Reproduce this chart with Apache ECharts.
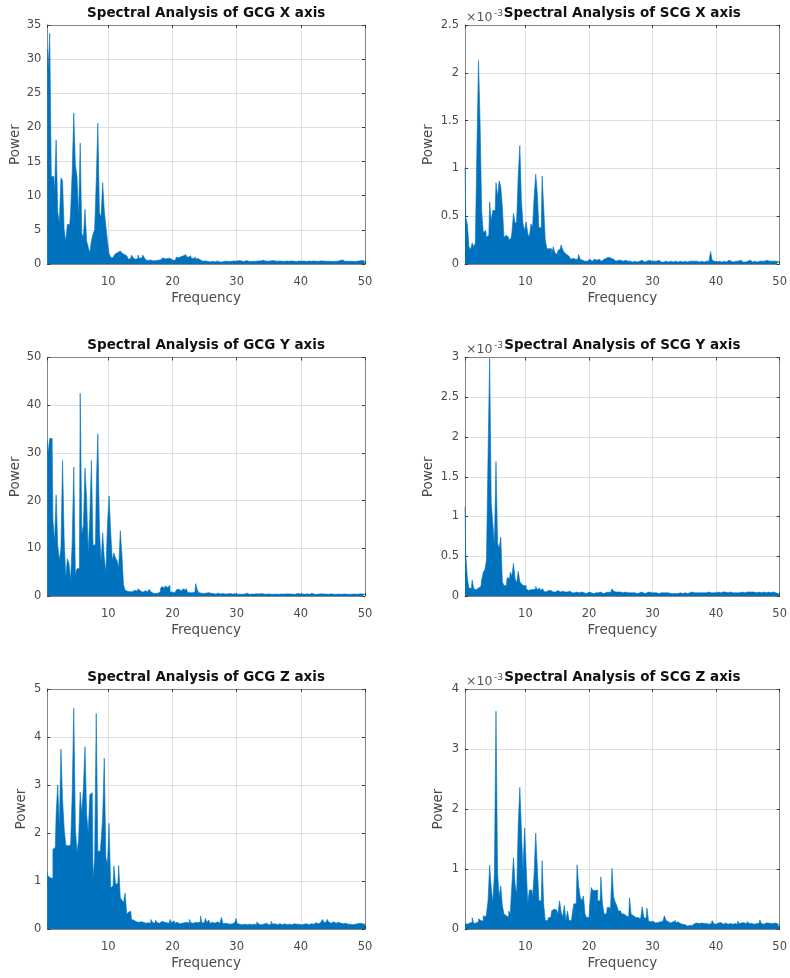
<!DOCTYPE html>
<html>
<head>
<meta charset="utf-8">
<script src="https://cdn.jsdelivr.net/npm/echarts@6/dist/echarts.min.js"></script>
<style>
  html, body { margin: 0; padding: 0; background: #ffffff; }
  #chart { width: 790px; height: 978px; }
</style>
</head>
<body>
<div id="chart"></div>
<script>
// Power spectra sampled on a uniform frequency grid (Hz): 0.5, 0.75, ... 50.
const FREQ_START = 0.5;
const FREQ_STEP = 0.25;

// GCG X axis power
const powGcgX = [
  31.5, 28.5, 33.8, 12.8,
  12.8, 10.5, 18.2, 7.6,
  6.0, 12.6, 12.2, 5.0,
  3.3, 5.8, 5.8, 7.5,
  13.4, 22.1, 14.5, 12.9,
  7.0, 17.7, 4.4, 3.9,
  8.0, 3.4, 2.5, 1.6,
  3.4, 4.4, 5.0, 12.2,
  20.6, 7.5, 6.9, 11.9,
  7.9, 5.5, 3.3, 1.5,
  1.0, 0.9, 1.2, 1.5,
  1.7, 1.9, 2.1, 1.6,
  1.4, 1.2, 1.0, 0.7,
  0.8, 1.3, 0.9, 0.7,
  0.8, 1.3, 0.8, 0.9,
  1.3, 0.9, 0.6, 0.5,
  0.6, 0.5, 0.45, 0.5,
  0.4, 0.55, 0.6, 0.8,
  0.9, 0.75, 0.95, 0.8,
  0.85, 0.7, 0.6, 0.5,
  0.7, 1.0, 0.9, 1.1,
  1.0, 1.2, 1.4, 1.1,
  1.0, 1.2, 0.9, 0.8,
  1.0, 0.7, 0.8, 0.6,
  0.5, 0.4, 0.45, 0.35,
  0.4, 0.3, 0.35, 0.4,
  0.3, 0.35, 0.45, 0.3,
  0.35, 0.3, 0.4, 0.35,
  0.4, 0.35, 0.45, 0.4,
  0.45, 0.35, 0.4, 0.5,
  0.4, 0.45, 0.35, 0.4,
  0.5, 0.4, 0.45, 0.35,
  0.4, 0.5, 0.4, 0.45,
  0.35, 0.45, 0.55, 0.4,
  0.45, 0.4, 0.35, 0.45,
  0.5, 0.4, 0.45, 0.4,
  0.35, 0.45, 0.4, 0.5,
  0.4, 0.45, 0.35, 0.4,
  0.45, 0.5, 0.4, 0.35,
  0.4, 0.45, 0.4, 0.5,
  0.45, 0.35, 0.4, 0.45,
  0.4, 0.5, 0.45, 0.4,
  0.35, 0.4, 0.45, 0.4,
  0.45, 0.4, 0.5, 0.4,
  0.4, 0.45, 0.35, 0.4,
  0.45, 0.4, 0.5, 0.45,
  0.6, 0.4, 0.45, 0.4,
  0.4, 0.45, 0.4, 0.35,
  0.45, 0.4, 0.45, 0.4,
  0.5, 0.45, 0.55
];

// SCG X axis power (units of 1e-3)
const powScgX = [
  1.01, 0.49, 0.41, 0.18,
  0.15, 0.22, 0.18, 0.22,
  1.22, 2.13, 1.47, 0.55,
  0.33, 0.35, 0.28, 0.3,
  0.65, 0.45, 0.56, 0.56,
  0.85, 0.7, 0.87, 0.81,
  0.6, 0.28, 0.3, 0.28,
  0.25, 0.27, 0.33, 0.53,
  0.42, 0.45, 0.93, 1.24,
  0.66, 0.42, 0.35, 0.44,
  0.32, 0.28, 0.42, 0.38,
  0.7, 0.94, 0.74, 0.38,
  0.38, 0.92, 0.6, 0.25,
  0.16, 0.16, 0.16, 0.1,
  0.18, 0.12, 0.1, 0.14,
  0.16, 0.2, 0.15, 0.12,
  0.1, 0.08, 0.06, 0.05,
  0.06, 0.05, 0.04, 0.05,
  0.1, 0.05, 0.04, 0.03,
  0.04, 0.03, 0.05, 0.04,
  0.03, 0.05, 0.04, 0.04,
  0.05, 0.04, 0.03, 0.05,
  0.05, 0.06, 0.07, 0.07,
  0.06, 0.05, 0.04, 0.03,
  0.04, 0.03, 0.04, 0.03,
  0.03, 0.04, 0.03, 0.02,
  0.03, 0.02, 0.04, 0.03,
  0.02, 0.03, 0.03, 0.04,
  0.03, 0.02, 0.03, 0.03,
  0.04, 0.03, 0.02, 0.03,
  0.03, 0.03, 0.04, 0.02,
  0.03, 0.02, 0.03, 0.04,
  0.02, 0.03, 0.03, 0.02,
  0.03, 0.04, 0.02, 0.03,
  0.03, 0.02, 0.03, 0.03,
  0.02, 0.03, 0.04, 0.03,
  0.03, 0.02, 0.03, 0.02,
  0.03, 0.03, 0.02, 0.04,
  0.03, 0.03, 0.04, 0.13,
  0.04, 0.03, 0.02, 0.03,
  0.03, 0.02, 0.03, 0.03,
  0.02, 0.03, 0.04, 0.03,
  0.03, 0.02, 0.03, 0.02,
  0.03, 0.04, 0.03, 0.02,
  0.02, 0.03, 0.03, 0.04,
  0.03, 0.02, 0.03, 0.03,
  0.02, 0.03, 0.02, 0.03,
  0.03, 0.02, 0.04, 0.03,
  0.02, 0.03, 0.03, 0.02,
  0.03, 0.02, 0.03
];

// GCG Y axis power
const powGcgY = [
  32.5, 30, 33, 33,
  16, 11.3, 21.2, 10.6,
  7.5, 10, 28.4, 12,
  3.8, 7.8, 6.8, 3.2,
  11, 27, 4.5, 5.7,
  5.8, 42.5, 13, 14.8,
  26.8, 20.3, 9, 16.5,
  28.4, 10.6, 10.8, 22.4,
  34, 14, 7, 13.2,
  8, 5, 15, 21,
  13.4, 7.5, 9, 8,
  7.4, 6, 13.7, 8.6,
  2.3, 1.2, 1.0, 0.9,
  1.1, 0.9, 1.2, 0.8,
  1.0, 1.5, 1.1, 0.8,
  0.9, 1.1, 0.9, 1.0,
  1.4, 0.9, 0.6, 0.5,
  0.5, 0.6, 0.9, 1.5,
  2.0, 1.6, 2.1, 1.8,
  2.2, 0.9, 0.8, 0.7,
  1.0, 1.3, 1.4, 1.1,
  1.0, 1.5, 1.1, 1.6,
  0.8, 0.7, 0.7, 0.6,
  0.8, 2.6, 1.2, 0.7,
  0.6, 0.5, 0.7, 0.6,
  0.7, 0.5, 0.6, 0.5,
  0.5, 0.4, 0.6, 0.45,
  0.4, 0.5, 0.45, 0.4,
  0.45, 0.4, 0.5, 0.4,
  0.4, 0.45, 0.35, 0.6,
  0.4, 0.35, 0.45, 0.4,
  0.6, 0.4, 0.35, 0.4,
  0.35, 0.4, 0.45, 0.35,
  0.4, 0.5, 0.35, 0.4,
  0.35, 0.4, 0.45, 0.35,
  0.4, 0.35, 0.4, 0.45,
  0.35, 0.4, 0.35, 0.4,
  0.4, 0.35, 0.45, 0.4,
  0.35, 0.4, 0.35, 0.4,
  0.55, 0.4, 0.35, 0.4,
  0.35, 0.4, 0.45, 0.35,
  0.4, 0.6, 0.35, 0.4,
  0.35, 0.4, 0.35, 0.45,
  0.4, 0.35, 0.4, 0.35,
  0.4, 0.45, 0.35, 0.4,
  0.35, 0.4, 0.45, 0.35,
  0.4, 0.35, 0.4, 0.35,
  0.45, 0.35, 0.4, 0.35,
  0.4, 0.35, 0.4, 0.45,
  0.4, 0.35, 0.4
];

// SCG Y axis power (units of 1e-3)
const powScgY = [
  1.12, 0.51, 0.22, 0.1,
  0.09, 0.2, 0.09, 0.08,
  0.1, 0.11, 0.12, 0.2,
  0.3, 0.33, 0.45, 1.76,
  2.99, 1.18, 0.91, 0.64,
  1.69, 0.66, 0.6, 0.74,
  0.18, 0.13, 0.13, 0.23,
  0.22, 0.3, 0.25, 0.41,
  0.22, 0.16, 0.31, 0.18,
  0.15, 0.13, 0.13, 0.09,
  0.07, 0.08, 0.1, 0.08,
  0.09, 0.12, 0.08, 0.1,
  0.07, 0.09, 0.06, 0.05,
  0.07, 0.06, 0.07, 0.05,
  0.06, 0.05, 0.07, 0.05,
  0.05, 0.06, 0.04, 0.05,
  0.05, 0.04, 0.06, 0.04,
  0.05, 0.04, 0.05, 0.03,
  0.04, 0.05, 0.04, 0.04,
  0.03, 0.04, 0.05, 0.04,
  0.04, 0.03, 0.04, 0.05,
  0.04, 0.05, 0.04, 0.03,
  0.04, 0.05, 0.05, 0.04,
  0.05, 0.09, 0.06, 0.05,
  0.05, 0.04, 0.05, 0.04,
  0.04, 0.05, 0.04, 0.03,
  0.04, 0.04, 0.05, 0.04,
  0.03, 0.04, 0.04, 0.05,
  0.04, 0.03, 0.04, 0.04,
  0.05, 0.04, 0.03, 0.04,
  0.04, 0.04, 0.03, 0.04,
  0.03, 0.04, 0.04, 0.03,
  0.04, 0.03, 0.04, 0.03,
  0.03, 0.04, 0.03, 0.04,
  0.04, 0.03, 0.04, 0.03,
  0.03, 0.04, 0.04, 0.05,
  0.04, 0.05, 0.04, 0.04,
  0.05, 0.04, 0.04, 0.05,
  0.04, 0.05, 0.04, 0.04,
  0.04, 0.03, 0.04, 0.05,
  0.04, 0.04, 0.05, 0.04,
  0.05, 0.04, 0.04, 0.05,
  0.04, 0.05, 0.04, 0.04,
  0.05, 0.04, 0.05, 0.04,
  0.04, 0.05, 0.04, 0.05,
  0.05, 0.07, 0.05, 0.04,
  0.04, 0.05, 0.04, 0.04,
  0.05, 0.04, 0.04, 0.05,
  0.04, 0.04, 0.05, 0.04,
  0.04, 0.03, 0.04
];

// GCG Z axis power
const powGcgZ = [
  1.17, 1.1, 1.07, 1.05,
  1.66, 1.7, 2.4, 3.0,
  2.1, 3.75, 2.7, 2.1,
  1.75, 1.73, 1.75, 1.7,
  2.8, 4.6, 2.1, 1.6,
  1.85, 2.85, 2.4, 2.95,
  3.8, 2.4, 2.0, 2.8,
  2.84, 1.07, 1.45, 4.49,
  1.62, 1.62, 1.83, 2.32,
  3.56, 1.49, 1.35, 2.2,
  0.86, 0.9, 1.31, 0.93,
  0.95, 1.32, 0.65, 0.6,
  0.55, 0.75, 0.3, 0.35,
  0.37, 0.2, 0.18, 0.15,
  0.16, 0.14, 0.15, 0.13,
  0.14, 0.12, 0.15, 0.13,
  0.12, 0.2, 0.14, 0.12,
  0.18, 0.13, 0.12, 0.16,
  0.12, 0.14, 0.13, 0.11,
  0.12, 0.2, 0.13, 0.17,
  0.12, 0.14, 0.11, 0.13,
  0.12, 0.13, 0.11, 0.14,
  0.12, 0.2, 0.13, 0.12,
  0.14, 0.12, 0.13, 0.15,
  0.27, 0.12, 0.14, 0.22,
  0.13, 0.19, 0.12, 0.14,
  0.12, 0.11, 0.15, 0.12,
  0.14, 0.24, 0.11, 0.12,
  0.11, 0.12, 0.1, 0.11,
  0.12, 0.14, 0.22, 0.11,
  0.1, 0.09, 0.11, 0.1,
  0.09, 0.12, 0.1, 0.09,
  0.11, 0.1, 0.09, 0.14,
  0.1, 0.09, 0.11, 0.1,
  0.12, 0.1, 0.09, 0.1,
  0.16, 0.1, 0.11, 0.09,
  0.1, 0.11, 0.09, 0.1,
  0.11, 0.09, 0.12, 0.1,
  0.09, 0.1, 0.11, 0.1,
  0.12, 0.1, 0.09, 0.11,
  0.1, 0.11, 0.1, 0.09,
  0.11, 0.12, 0.1, 0.13,
  0.12, 0.11, 0.14, 0.12,
  0.2, 0.13, 0.15, 0.2,
  0.14, 0.12, 0.15, 0.13,
  0.12, 0.14, 0.11, 0.12,
  0.11, 0.1, 0.12, 0.1,
  0.11, 0.1, 0.09, 0.11,
  0.1, 0.11, 0.1, 0.12,
  0.11, 0.13, 0.1
];

// SCG Z axis power (units of 1e-3)
const powScgZ = [
  0.09, 0.08, 0.09, 0.1,
  0.11, 0.19, 0.09, 0.1,
  0.12, 0.17, 0.14, 0.13,
  0.22, 0.2, 0.25, 0.47,
  1.06, 0.69, 0.44, 0.92,
  3.63, 0.94, 0.53, 0.72,
  0.39, 0.25, 0.22, 0.2,
  0.3, 0.25, 0.75, 1.19,
  0.75, 0.58, 1.75, 2.36,
  1.64, 0.97, 1.68, 1.04,
  0.42, 0.65, 0.65, 0.53,
  0.92, 1.6, 1.03, 0.47,
  0.47, 1.14, 0.42, 0.14,
  0.14, 0.19, 0.19, 0.3,
  0.33, 0.32, 0.3, 0.25,
  0.47, 0.28, 0.2, 0.39,
  0.14, 0.3, 0.14, 0.14,
  0.26, 0.42, 0.42, 1.07,
  0.72, 0.53, 0.47, 0.55,
  0.25, 0.19, 0.19, 0.4,
  0.69, 0.64, 0.64, 0.65,
  0.47, 0.47, 0.87, 0.42,
  0.25, 0.25, 0.36, 0.36,
  0.3, 1.01, 0.53, 0.45,
  0.39, 0.3, 0.3, 0.25,
  0.25, 0.22, 0.22, 0.2,
  0.52, 0.25, 0.22, 0.19,
  0.18, 0.19, 0.17, 0.18,
  0.37, 0.19, 0.18, 0.35,
  0.13, 0.12, 0.13, 0.11,
  0.1, 0.11, 0.1, 0.12,
  0.13, 0.15, 0.22, 0.14,
  0.12, 0.1, 0.11, 0.12,
  0.14, 0.1, 0.12, 0.09,
  0.1, 0.08, 0.07, 0.06,
  0.05, 0.06, 0.07, 0.06,
  0.09, 0.08, 0.1, 0.09,
  0.08, 0.1, 0.09, 0.11,
  0.09, 0.08, 0.1, 0.09,
  0.14, 0.09, 0.08, 0.1,
  0.09, 0.11, 0.08, 0.1,
  0.1, 0.08, 0.11, 0.09,
  0.08, 0.1, 0.09, 0.08,
  0.13, 0.09, 0.1, 0.11,
  0.1, 0.08, 0.12, 0.09,
  0.09, 0.1, 0.08, 0.09,
  0.1, 0.09, 0.15, 0.09,
  0.08, 0.1, 0.09, 0.1,
  0.09, 0.08, 0.09, 0.1,
  0.09, 0.08, 0.08
];

const panelTitles = [
  'Spectral Analysis of GCG X axis', 'Spectral Analysis of SCG X axis',
  'Spectral Analysis of GCG Y axis', 'Spectral Analysis of SCG Y axis',
  'Spectral Analysis of GCG Z axis', 'Spectral Analysis of SCG Z axis'
];
const panelData = [powGcgX, powScgX, powGcgY, powScgY, powGcgZ, powScgZ];
const yMaxes = [35, 2.5, 50, 3, 5, 4];
const yIntervals = [5, 0.5, 10, 0.5, 1, 1];
const scaledPanels = [false, true, false, true, false, true]; // axes labelled in x10^-3
const X_MIN = 0.5, X_MAX = 50;
const xLabelText = 'Frequency';
const yLabelText = 'Power';
const exponentBase = '\u00d710';
const exponentPower = '-3';

// Layout (px)
const columns = [{ left: 47.3, width: 317.7 }, { left: 465, width: 318 }];
const rows = [{ top: 25, height: 239 }, { top: 357.5, height: 238.5 }, { top: 689, height: 240 }];
const yNameGaps = [25, 30, 25, 30, 18.5, 19.5];

const FONT = 'DejaVu Sans';
const LINE_COLOR = '#0072BD';
const AXIS_COLOR = '#858585';
const TICK_COLOR = '#3a3a3a';
const TEXT_COLOR = '#4a4a4a';
const GRID_COLOR = '#e0e0e0';

const grid = [], xAxis = [], yAxis = [], series = [], title = [];

panelData.forEach((values, i) => {
  const col = columns[i % 2];
  const row = rows[Math.floor(i / 2)];
  grid.push({ left: col.left, top: row.top, width: col.width, height: row.height, containLabel: false });

  const axisLine = { show: true, onZero: false, lineStyle: { color: AXIS_COLOR, width: 1 } };
  const axisTick = { show: true, inside: true, length: 3, lineStyle: { color: TICK_COLOR, width: 1 } };
  const tickFont = { color: TEXT_COLOR, fontSize: 11.5, fontFamily: FONT };

  // bottom frequency axis
  xAxis.push({
    gridIndex: i, type: 'value', position: 'bottom', min: X_MIN, max: X_MAX,
    axisLine, axisTick,
    axisLabel: Object.assign({ margin: 12, showMinLabel: false }, tickFont),
    splitLine: { show: true, lineStyle: { color: GRID_COLOR, width: 1 } },
    name: xLabelText, nameLocation: 'middle', nameGap: 27,
    nameTextStyle: { color: TEXT_COLOR, fontSize: 13.5, fontFamily: FONT }
  });
  // top frame edge carrying the panel title
  xAxis.push({
    gridIndex: i, type: 'value', position: 'top', min: X_MIN, max: X_MAX,
    axisLine, axisTick, axisLabel: { show: false }, splitLine: { show: false },
    name: panelTitles[i], nameLocation: 'middle', nameGap: 5,
    nameTextStyle: { color: '#111111', fontSize: 13.5, fontWeight: 'bold', fontFamily: FONT }
  });
  // left power axis
  yAxis.push({
    gridIndex: i, type: 'value', position: 'left', min: 0, max: yMaxes[i], interval: yIntervals[i],
    axisLine, axisTick,
    axisLabel: Object.assign({ margin: 6 }, tickFont),
    splitLine: { show: true, lineStyle: { color: GRID_COLOR, width: 1 } },
    name: yLabelText, nameLocation: 'middle', nameGap: yNameGaps[i], nameRotate: 90,
    nameTextStyle: { color: TEXT_COLOR, fontSize: 13.5, fontFamily: FONT }
  });
  // right frame edge
  yAxis.push({
    gridIndex: i, type: 'value', position: 'right', min: 0, max: yMaxes[i], interval: yIntervals[i],
    axisLine, axisTick, axisLabel: { show: false }, splitLine: { show: false }
  });

  series.push({
    type: 'line', xAxisIndex: 2 * i, yAxisIndex: 2 * i,
    data: values.map((v, k) => [FREQ_START + k * FREQ_STEP, v]),
    step: 'middle', symbol: 'none', silent: true,
    lineStyle: { color: LINE_COLOR, width: 0.6 },
    areaStyle: { color: LINE_COLOR, opacity: 1 }
  });

  if (scaledPanels[i]) {
    title.push({
      text: exponentBase, left: col.left + 1, top: row.top - 14, padding: 0,
      textStyle: { color: '#555555', fontSize: 12.5, fontWeight: 'normal', fontFamily: FONT }
    });
    title.push({
      text: exponentPower, left: col.left + 29, top: row.top - 16, padding: 0,
      textStyle: { color: '#555555', fontSize: 9, fontWeight: 'normal', fontFamily: FONT }
    });
  }
});

const chart = echarts.init(document.getElementById('chart'), null, { renderer: 'canvas' });
chart.setOption({
  backgroundColor: '#ffffff',
  animation: false,
  title, grid, xAxis, yAxis, series
});
</script>
</body>
</html>
